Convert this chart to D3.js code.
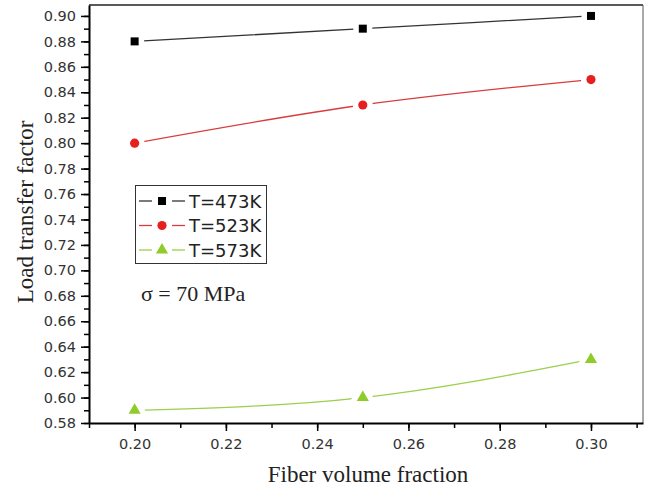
<!DOCTYPE html>
<html>
<head>
<meta charset="utf-8">
<script src="https://cdn.jsdelivr.net/npm/d3@7"></script>
<style>
  body { margin: 0; background: #fff; }
  svg { display: block; }
</style>
</head>
<body>
<div id="chart"></div>
<script>
// Data

let fractions = [0.20, 0.25, 0.30]
let seriesNames = [`T=473K`, `T=523K`, `T=573K`]
let factors473 = [0.88, 0.89, 0.90]
let factors523 = [0.80, 0.83, 0.85]
let factors573 = [0.59, 0.60, 0.63]
let xTicks = [0.20, 0.22, 0.24, 0.26, 0.28, 0.30]
let yTicks = [0.58, 0.60, 0.62, 0.64, 0.66, 0.68, 0.70, 0.72, 0.74, 0.76, 0.78, 0.80, 0.82, 0.84, 0.86, 0.88, 0.90]

let series = [
  { name: seriesNames[0], values: factors473, line: `#333`, fill: `#000`, shape: d3.symbolSquare, size: 64 },
  { name: seriesNames[1], values: factors523, line: `#d83c3c`, fill: `#e5201e`, shape: d3.symbolCircle, size: 66 },
  { name: seriesNames[2], values: factors573, line: `#9ccf4a`, fill: `#8fcc2a`, shape: d3.symbolTriangle, size: 64 },
]

// Spatial

let width = 650
let height = 491
let plotLeft = 89, plotRight = 643, plotTop = 5, plotBottom = 423

let sans = `"DejaVu Sans", sans-serif`
let serif = `"Liberation Serif", "Times New Roman", serif`

let svg = d3.select(`#chart`).append(`svg`)
  .attr(`width`, width)
  .attr(`height`, height)

let x = d3.scaleLinear().domain([0.19, 0.3114]).range([plotLeft, plotRight])
let y = d3.scaleLinear().domain([0.58, 0.9086]).range([plotBottom, plotTop])

// Frame (top and right)

svg.append(`line`)
  .attr(`x1`, plotLeft).attr(`x2`, plotRight).attr(`y1`, plotTop).attr(`y2`, plotTop)
  .attr(`stroke`, `#222`).attr(`stroke-width`, 1.5)
svg.append(`line`)
  .attr(`x1`, plotRight).attr(`x2`, plotRight).attr(`y1`, plotTop).attr(`y2`, plotBottom)
  .attr(`stroke`, `#555`).attr(`stroke-width`, 1)

// Minor ticks

let minorX = d3.range(19, 32, 1).map(d => d / 100)
let minorY = d3.range(58, 91, 1).map(d => d / 100)

svg.append(`g`)
  .attr(`transform`, `translate(0,${plotBottom})`)
  .call(d3.axisBottom(x).tickValues(minorX).tickSize(5).tickFormat(``))
  .call(g => g.select(`.domain`).remove())
  .selectAll(`line`).attr(`stroke-width`, 1.5)

svg.append(`g`)
  .attr(`transform`, `translate(${plotLeft},0)`)
  .call(d3.axisLeft(y).tickValues(minorY).tickSize(5).tickFormat(``))
  .call(g => g.select(`.domain`).remove())
  .selectAll(`line`).attr(`stroke-width`, 1.5)

// Major axes

let xAxis = svg.append(`g`)
  .attr(`transform`, `translate(0,${plotBottom})`)
  .call(d3.axisBottom(x).tickValues(xTicks).tickSize(8).tickPadding(8).tickFormat(d3.format(`.2f`)).tickSizeOuter(0))

let yAxis = svg.append(`g`)
  .attr(`transform`, `translate(${plotLeft},0)`)
  .call(d3.axisLeft(y).tickValues(yTicks).tickSize(8).tickPadding(5).tickFormat(d3.format(`.2f`)).tickSizeOuter(0))

;[xAxis, yAxis].forEach(g => {
  g.select(`.domain`).attr(`stroke-width`, 2).attr(`stroke`, `#000`)
  g.selectAll(`.tick line`).attr(`stroke-width`, 1.5)
  g.selectAll(`text`)
    .attr(`font-family`, sans)
    .attr(`font-size`, 14.5)
    .attr(`fill`, `#333`)
})

// Axis titles

svg.append(`text`)
  .attr(`x`, (plotLeft + plotRight) / 2 + 2)
  .attr(`y`, 482)
  .attr(`text-anchor`, `middle`)
  .attr(`font-family`, serif)
  .attr(`font-size`, 23)
  .attr(`fill`, `#222`)
  .text(`Fiber volume fraction`)

svg.append(`text`)
  .attr(`transform`, `translate(33,212) rotate(-90)`)
  .attr(`text-anchor`, `middle`)
  .attr(`font-family`, serif)
  .attr(`font-size`, 23)
  .attr(`fill`, `#222`)
  .text(`Load transfer factor`)

// Lines and markers

let line = d3.line()
  .x((d, i) => x(fractions[i]))
  .y(d => y(d))
  .curve(d3.curveNatural)

series.forEach(s => {
  svg.append(`path`)
    .attr(`d`, line(s.values))
    .attr(`fill`, `none`)
    .attr(`stroke`, s.line)
    .attr(`stroke-width`, 1.3)

  svg.append(`g`)
    .selectAll(`path`)
    .data(s.values)
    .join(`path`)
    .attr(`transform`, (d, i) => `translate(${x(fractions[i])},${y(d)})`)
    .attr(`d`, d3.symbol(s.shape, s.size))
    .attr(`fill`, s.fill)
    .attr(`stroke`, `#fff`)
    .attr(`stroke-width`, 11)
    .attr(`paint-order`, `stroke`)
})

// Legend

let legend = svg.append(`g`)

legend.append(`rect`)
  .attr(`x`, 135.5).attr(`y`, 185.5)
  .attr(`width`, 131).attr(`height`, 78)
  .attr(`fill`, `#fff`)
  .attr(`stroke`, `#333`)
  .attr(`stroke-width`, 1)

series.forEach((s, i) => {
  let cy = 201 + i * 24.5
  legend.append(`line`)
    .attr(`x1`, 139).attr(`x2`, 152).attr(`y1`, cy).attr(`y2`, cy)
    .attr(`stroke`, s.line).attr(`stroke-width`, 1.3)
  legend.append(`line`)
    .attr(`x1`, 172).attr(`x2`, 185).attr(`y1`, cy).attr(`y2`, cy)
    .attr(`stroke`, s.line).attr(`stroke-width`, 1.3)
  legend.append(`path`)
    .attr(`transform`, `translate(162,${cy})`)
    .attr(`d`, d3.symbol(s.shape, s.size))
    .attr(`fill`, s.fill)
  legend.append(`text`)
    .attr(`x`, 189)
    .attr(`y`, cy + 6.5)
    .attr(`font-family`, sans)
    .attr(`font-size`, 18)
    .attr(`fill`, `#222`)
    .text(s.name)
})

// Annotation

svg.append(`text`)
  .attr(`x`, 141)
  .attr(`y`, 301)
  .attr(`font-family`, serif)
  .attr(`font-size`, 22)
  .attr(`fill`, `#222`)
  .text(`σ = 70 MPa`)
</script>
</body>
</html>
